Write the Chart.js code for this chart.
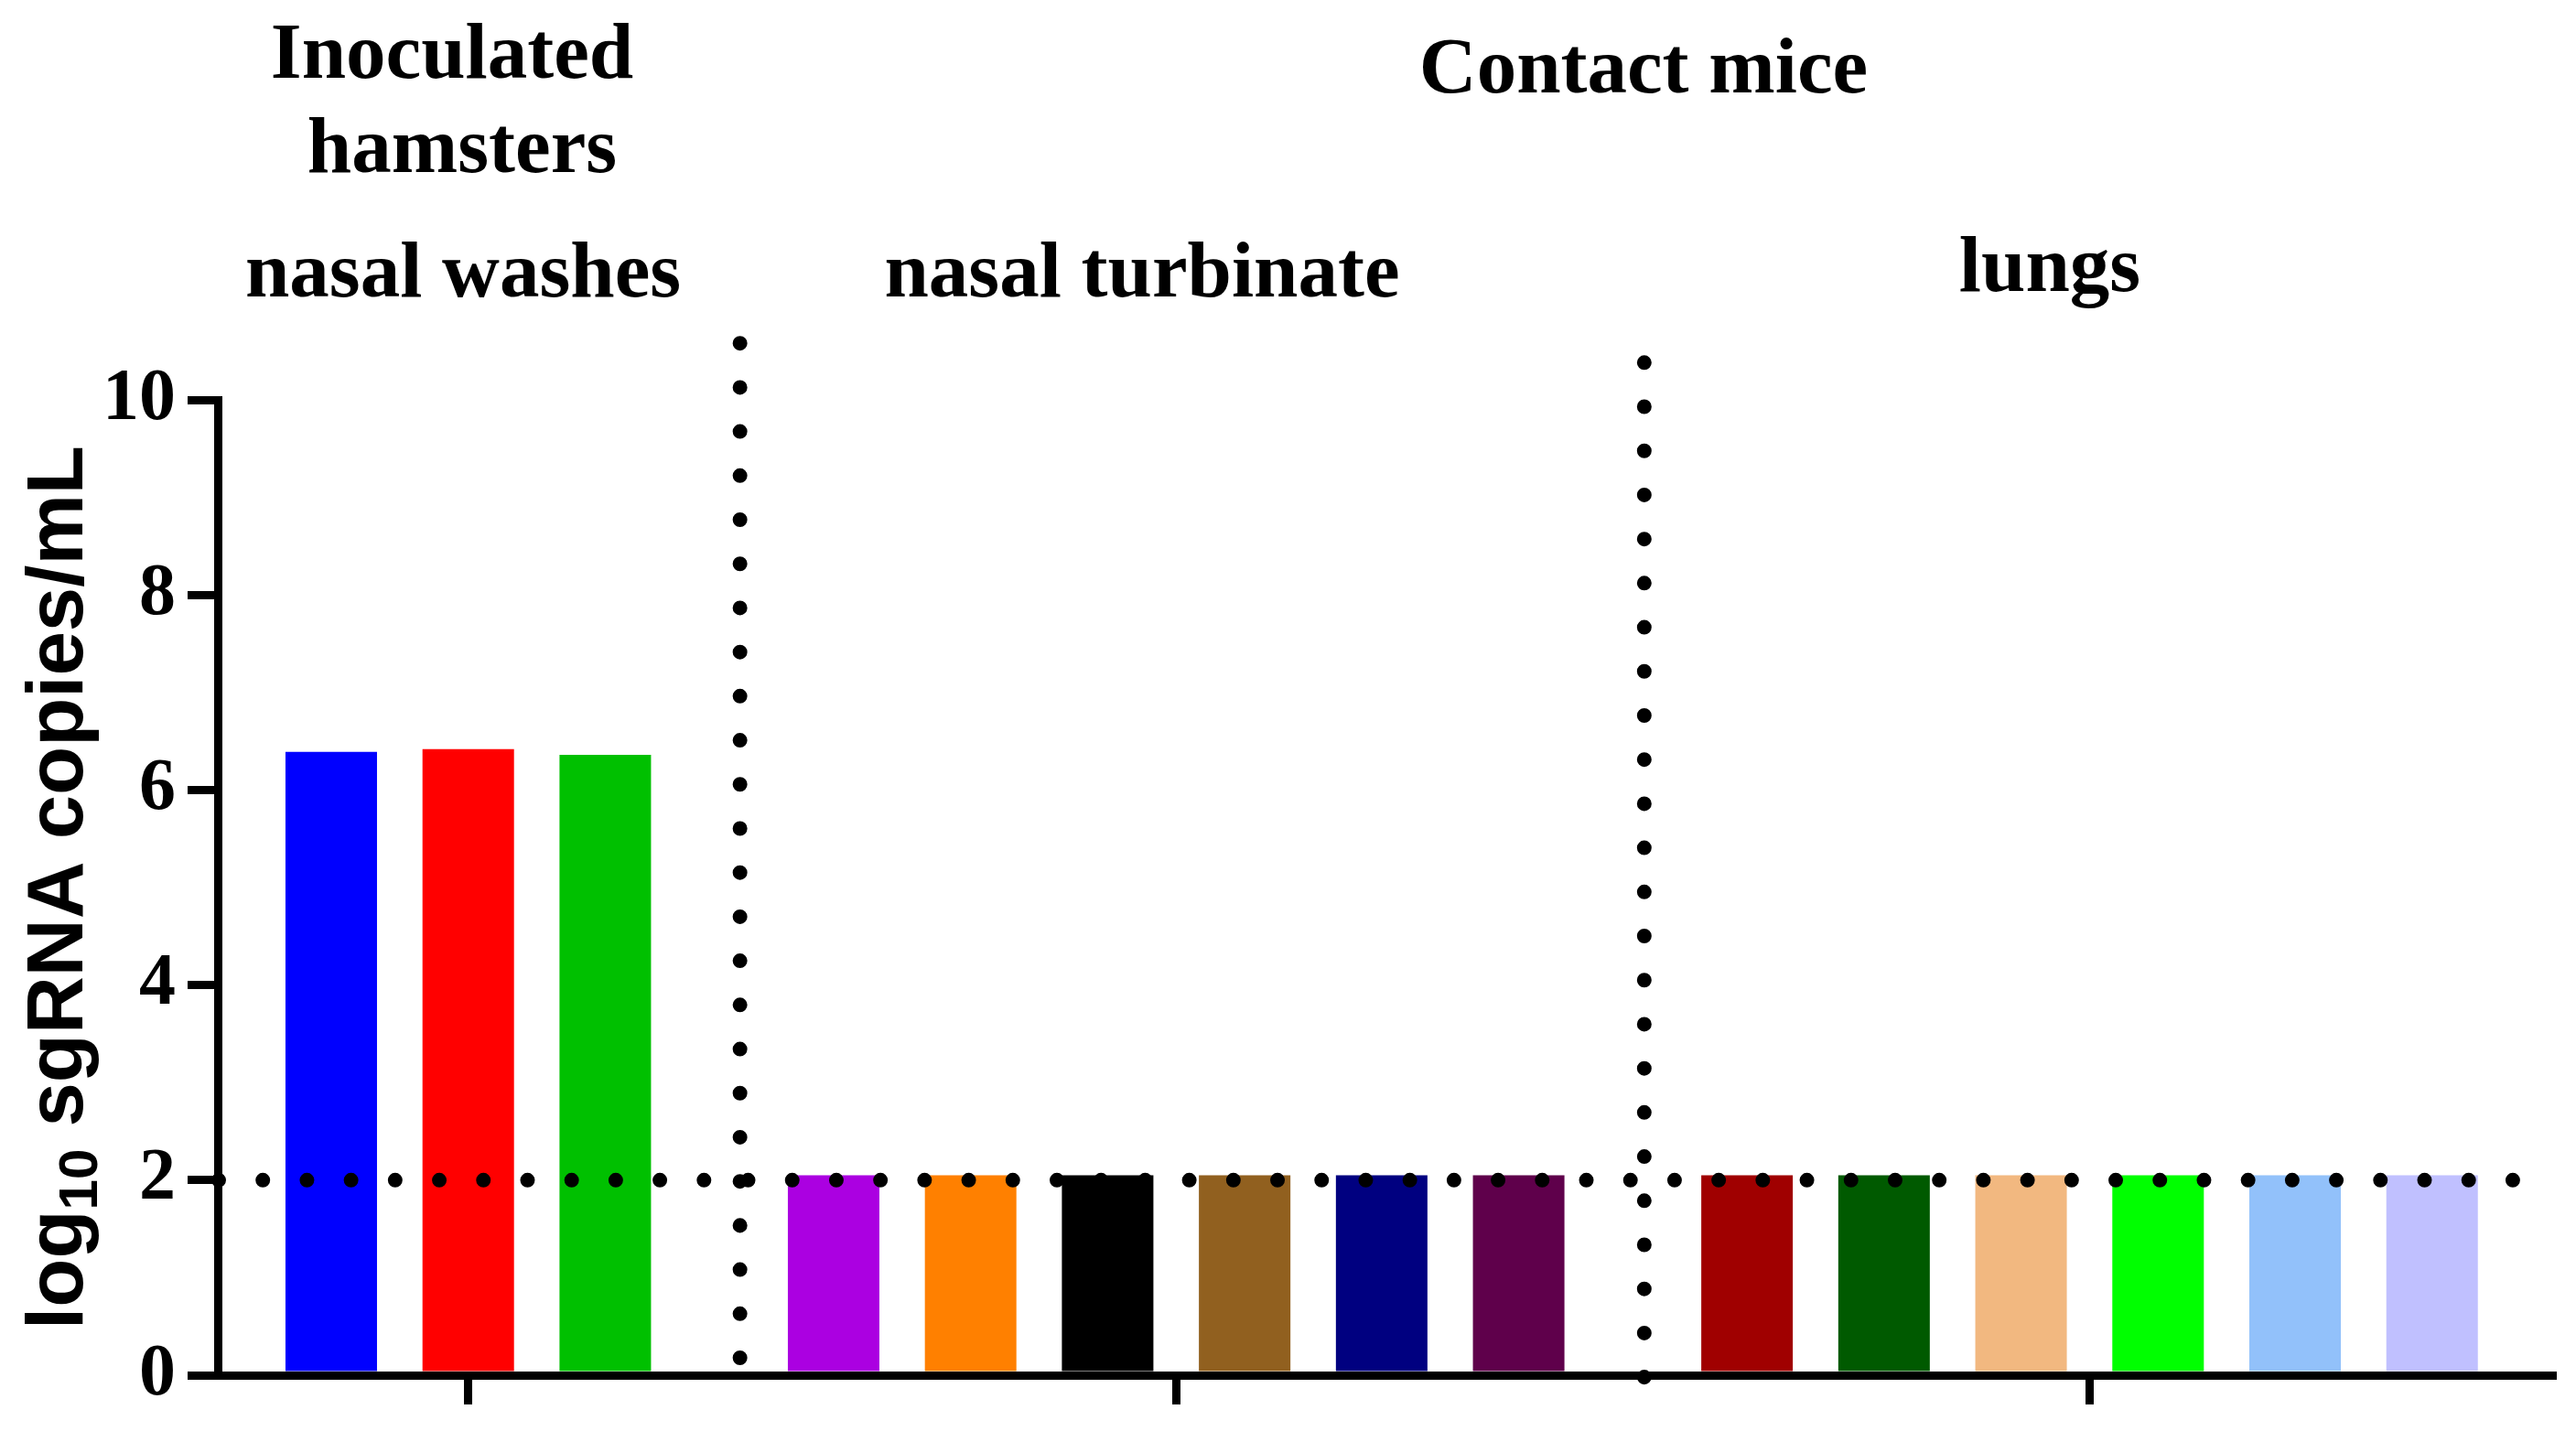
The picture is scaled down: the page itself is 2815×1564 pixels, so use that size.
<!DOCTYPE html>
<html>
<head>
<meta charset="utf-8">
<script src="https://cdn.jsdelivr.net/npm/chart.js@4.4.0/dist/chart.umd.min.js"></script>
<style>
  html, body { margin: 0; padding: 0; background: #fff; }
  canvas { display: block; }
</style>
</head>
<body>
<canvas id="chart" width="2815" height="1564"></canvas>
<script>
// values (log10 sgRNA copies/mL)
const groupNames = ['nasal washes', 'nasal turbinate', 'lungs'];
const washValues = [6.39, 6.42, 6.36];
const turbinateValues = [2.05, 2.05, 2.05, 2.05, 2.05, 2.05];
const lungValues = [2.05, 2.05, 2.05, 2.05, 2.05, 2.05];
const detectionLimit = 2;
const yTicks = [0, 2, 4, 6, 8, 10];

const washColors = ['#0000FF', '#FF0000', '#00C000'];
const turbinateColors = ['#AB00E1', '#FF8000', '#000000', '#91601F', '#000080', '#5F004B'];
const lungColors = ['#A00000', '#005A00', '#F2B880', '#00FF00', '#92C1FA', '#C0C0FF'];

// header text, canvas pixels
const headers = [
    { text: 'Inoculated', x: 494, y: 85 },
    { text: 'hamsters', x: 505, y: 188 },
    { text: 'nasal washes', x: 506, y: 324 },
    { text: 'Contact mice', x: 1796, y: 101 },
    { text: 'nasal turbinate', x: 1248, y: 324 },
    { text: 'lungs', x: 2240, y: 318 }
];

const groupGap = 2 / 3;                   // extra room between groups, in bar pitches
const separatorSpot = [0.59, 0.55];       // where the dotted divider sits inside each gap
const separatorSpan = [[10.58, 0.12], [-0.02, 10.42]];

const groupValues = [washValues, turbinateValues, lungValues];
const groupColors = [washColors, turbinateColors, lungColors];

const barPoints = [];
const barColors = [];
const groupCenters = [];
const groupEnds = [];
let flat = 0;
groupValues.forEach((vals, g) => {
    const start = flat + g * groupGap;
    vals.forEach((v, i) => {
        barPoints.push({ x: start + i, y: v });
        barColors.push(groupColors[g][i]);
    });
    groupCenters.push(start + (vals.length - 1) / 2);
    groupEnds.push([start, start + vals.length - 1]);
    flat += vals.length;
});

function dotted(ctx, x1, y1, x2, y2) {
    ctx.save();
    ctx.strokeStyle = '#000';
    ctx.lineWidth = 16;
    ctx.lineCap = 'round';
    ctx.setLineDash([0.01, 48.2]);
    ctx.beginPath();
    ctx.moveTo(x1, y1);
    ctx.lineTo(x2, y2);
    ctx.stroke();
    ctx.restore();
}

const decorations = {
    id: 'decorations',
    afterDatasetsDraw(chart) {
        const { ctx, chartArea, scales } = chart;
        const x = scales.x;
        const y = scales.y;

        // limit of detection
        const lodY = y.getPixelForValue(detectionLimit);
        const lastBar = groupEnds[groupEnds.length - 1][1];
        dotted(ctx, chartArea.left + 1, lodY, x.getPixelForValue(lastBar + 0.6), lodY);

        // group dividers
        for (let g = 0; g < groupEnds.length - 1; g++) {
            const a = groupEnds[g][1];
            const b = groupEnds[g + 1][0];
            const px = x.getPixelForValue(a + (b - a) * separatorSpot[g]);
            dotted(ctx, px, y.getPixelForValue(separatorSpan[g][0]), px, y.getPixelForValue(separatorSpan[g][1]));
        }
    },
    afterDraw(chart) {
        const { ctx, chartArea } = chart;
        ctx.save();
        ctx.fillStyle = '#000';
        ctx.textAlign = 'center';
        ctx.textBaseline = 'alphabetic';
        ctx.font = 'bold 87px "Liberation Serif"';
        headers.forEach(h => ctx.fillText(h.text, h.x, h.y));

        // y axis title with subscript
        const parts = [['log', 87, 0], ['10', 60, 16], [' sgRNA copies/mL', 87, 0]];
        ctx.translate(90, (chartArea.top + chartArea.bottom) / 2);
        ctx.rotate(-Math.PI / 2);
        ctx.textAlign = 'left';
        let total = 0;
        parts.forEach(p => {
            ctx.font = `bold ${p[1]}px "Liberation Sans"`;
            total += ctx.measureText(p[0]).width;
        });
        let pos = -total / 2;
        parts.forEach(p => {
            ctx.font = `bold ${p[1]}px "Liberation Sans"`;
            ctx.fillText(p[0], pos, p[2]);
            pos += ctx.measureText(p[0]).width;
        });
        ctx.restore();
    }
};

new Chart(document.getElementById('chart'), {
    type: 'bar',
    data: {
        datasets: [{
            label: groupNames.join(' / '),
            data: barPoints,
            backgroundColor: barColors,
            borderWidth: 0,
            barPercentage: 0.668,
            categoryPercentage: 1
        }]
    },
    options: {
        responsive: false,
        animation: false,
        devicePixelRatio: 1,
        layout: { padding: { left: 0, top: 437, right: 26, bottom: 0 } },
        plugins: {
            legend: { display: false },
            tooltip: { enabled: false }
        },
        scales: {
            x: {
                type: 'linear',
                min: -0.828,
                max: 16.21,
                offset: false,
                grid: {
                    offset: false,
                    drawOnChartArea: false,
                    drawTicks: true,
                    tickLength: 32,
                    lineWidth: 9,
                    tickWidth: 9,
                    color: '#000'
                },
                border: { display: true, width: 9, color: '#000' },
                ticks: { display: false },
                afterBuildTicks: s => { s.ticks = groupCenters.map(v => ({ value: v })); },
                afterFit: s => { s.height = 57; }
            },
            y: {
                min: 0,
                max: 10,
                grid: {
                    drawOnChartArea: false,
                    drawTicks: true,
                    tickLength: 33,
                    lineWidth: 9,
                    tickWidth: 9,
                    color: '#000'
                },
                border: { display: true, width: 9, color: '#000' },
                ticks: {
                    padding: 13,
                    color: '#000',
                    font: { family: 'Liberation Serif', size: 80, weight: 'bold' }
                },
                afterBuildTicks: s => { s.ticks = yTicks.map(v => ({ value: v })); },
                afterFit: s => { s.width = 238; }
            }
        }
    },
    plugins: [decorations]
});
</script>
</body>
</html>
